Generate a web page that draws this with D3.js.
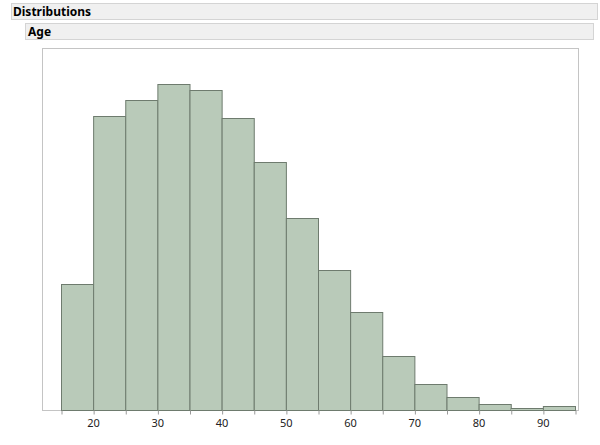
<!DOCTYPE html>
<html>
<head>
<meta charset="utf-8">
<script src="https://cdn.jsdelivr.net/npm/d3@7"></script>
<style>
  body { margin: 0; background: #fff; }
  svg { display: block; font-family: "Noto Sans", "DejaVu Sans", sans-serif; }
</style>
</head>
<body>
<div id="canvas"></div>
<script>
// histogram bins (age, width 5) and counts
const binStarts = [15, 20, 25, 30, 35, 40, 45, 50, 55, 60, 65, 70, 75, 80, 85, 90];
const counts = [63, 147, 155, 163, 160, 146, 124, 96, 70, 49, 27, 13, 6.5, 3, 1, 2];
const tickValues = [20, 30, 40, 50, 60, 70, 80, 90];
const binWidth = 5;

const svgWidth = 600, svgHeight = 445;
const frame = { left: 42, right: 578, top: 48, bottom: 410 };

const svg = d3.select('#canvas').append('svg')
  .attr('width', svgWidth)
  .attr('height', svgHeight);

// report headers
svg.append('rect')
  .attr('x', 11.5).attr('y', 3.5).attr('width', 586).attr('height', 16)
  .attr('fill', '#f0f0f0').attr('stroke', '#d4d4d4');
svg.append('text')
  .attr('x', 13).attr('y', 16)
  .attr('font-size', 12).attr('font-weight', 'bold')
  .text('Distributions');

svg.append('rect')
  .attr('x', 25.5).attr('y', 23.5).attr('width', 568).attr('height', 16)
  .attr('fill', '#f0f0f0').attr('stroke', '#d4d4d4');
svg.append('text')
  .attr('x', 28).attr('y', 36)
  .attr('font-size', 12).attr('font-weight', 'bold')
  .text('Age');

// scales
const xScale = d3.scaleLinear()
  .domain([15, 95])
  .range([61, 575]);

const yScale = d3.scaleLinear()
  .domain([0, 181])
  .range([frame.bottom, frame.top]);

// frame
svg.append('rect')
  .attr('x', frame.left + 0.5).attr('y', frame.top + 0.5)
  .attr('width', frame.right - frame.left).attr('height', frame.bottom - frame.top)
  .attr('fill', '#fff').attr('stroke', '#c4c4c4');

// bars
svg.append('g')
  .selectAll('rect')
  .data(binStarts)
  .enter()
  .append('rect')
  .attr('x', (d) => xScale(d) + 0.5)
  .attr('width', (d) => xScale(d + binWidth) - xScale(d))
  .attr('y', (d, i) => yScale(counts[i]) + 0.5)
  .attr('height', (d, i) => yScale(0) - yScale(counts[i]))
  .attr('fill', '#b9cab9')
  .attr('stroke', '#6e7b6e')
  .attr('stroke-width', 1);

// x axis
const axisTicks = binStarts.concat([95]);
const xAxis = svg.append('g')
  .attr('transform', `translate(0,${frame.bottom + 0.5})`)
  .call(d3.axisBottom(xScale)
    .tickValues(axisTicks)
    .tickSize(4)
    .tickPadding(5)
    .tickFormat((d) => tickValues.includes(d) ? d : ''));

xAxis.select('.domain').remove();
xAxis.selectAll('line')
  .attr('stroke', '#9a9a9a')
  .attr('transform', 'translate(0.5,0)');
xAxis.selectAll('text')
  .attr('fill', '#222')
  .style('font-size', '11px')
  .style('font-family', '"Noto Sans", "DejaVu Sans", sans-serif');
</script>
</body>
</html>
